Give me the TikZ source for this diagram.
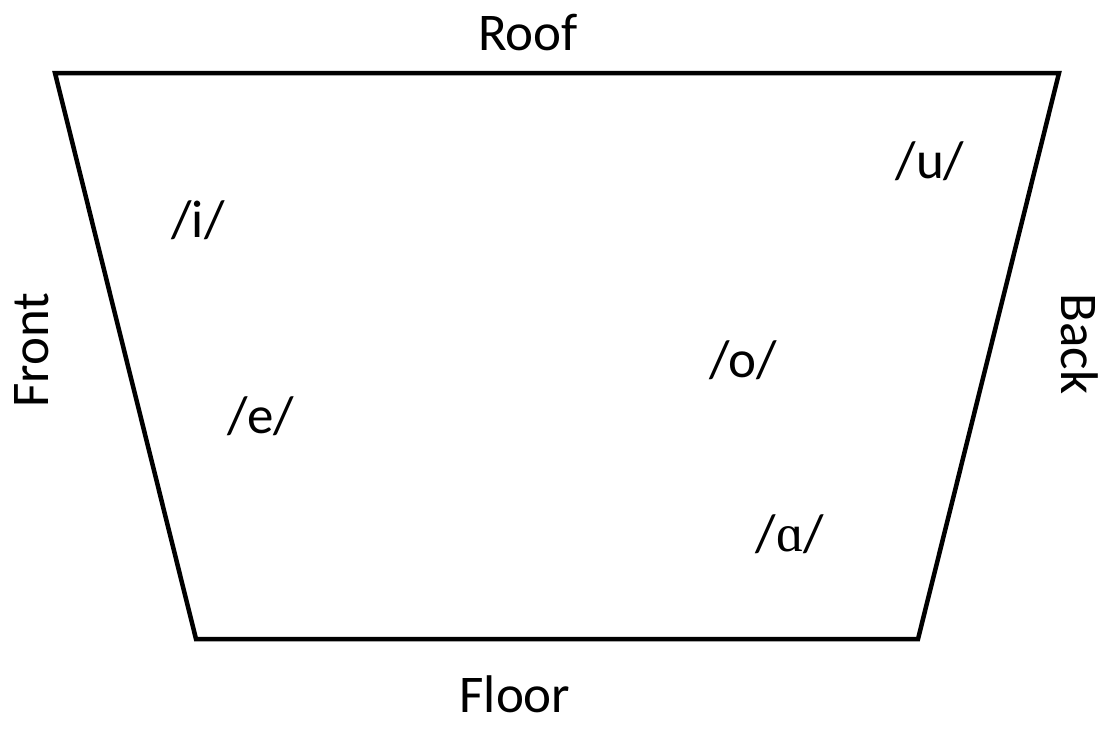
\documentclass[tikz,border=0pt]{standalone}
\usepackage{fontspec}
\setmainfont{Carlito}
\newfontfamily\ipafont{Liberation Serif}
\begin{document}
\begin{tikzpicture}[x=1pt,y=-1pt,
  label/.style={font=\fontsize{53}{60}\selectfont, inner sep=0pt},
  vowel/.style={font=\fontsize{53}{60}\selectfont, inner sep=0pt},
  edge/.style={line width=4.5pt, line join=miter}]
  \useasboundingbox (0,0) rectangle (1107,729);
  % corners of the vowel space
  \coordinate (tl) at (55,73);
  \coordinate (tr) at (1059,73);
  \coordinate (br) at (918,639);
  \coordinate (bl) at (196,639);
  \draw[edge] (tl) -- (tr) -- (br) -- (bl) -- cycle;
  % side labels
  \node[label] (roof) at (528,33) {Roof};
  \node[label] (floor) at (515,694) {Floor};
  \node[label, rotate=90] (front) at (32,350) {Front};
  \node[label, rotate=-90] (back) at (1080,344) {Back};
  % vowels
  \node[vowel] (i) at (198,220) {/i/};
  \node[vowel] (u) at (930,161) {/u/};
  \node[vowel] (o) at (743,360) {/o/};
  \node[vowel] (e) at (261,416) {/e/};
  \node[vowel] (a) at (790,534) {/{\ipafont ɑ}/};
\end{tikzpicture}
\end{document}
